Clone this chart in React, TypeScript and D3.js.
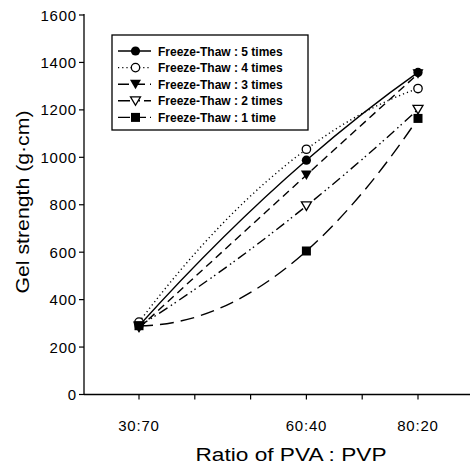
import React from "react";
import * as d3 from "d3";

const ratioLabels = ["30:70", "60:40", "80:20"];
const pvaShare = [30, 60, 80];
const xTicks = [30, 40, 50, 60, 70, 80];
const yTicks = [0, 200, 400, 600, 800, 1000, 1200, 1400, 1600];

const ft5 = [290, 988, 1358];
const ft4 = [305, 1034, 1290];
const ft3 = [280, 925, 1352];
const ft2 = [288, 795, 1202];
const ft1 = [290, 605, 1164];

const seriesNames = [
  "Freeze-Thaw : 5 times",
  "Freeze-Thaw : 4 times",
  "Freeze-Thaw : 3 times",
  "Freeze-Thaw : 2 times",
  "Freeze-Thaw : 1 time",
];
const seriesValues = [ft5, ft4, ft3, ft2, ft1];
const seriesMarkers = ["circleFilled", "circleOpen", "triFilled", "triOpen", "square"];
const seriesDash = ["none", "1.2 3", "8 5", "10 4 1.5 3 1.5 4", "14 7"];
const legendDash = ["none", "1.2 3", "11 5", "12 4 1.5 3 1.5 4", "12 4"];

// parabola through three points (custom d3 curve)
class Parabola {
  _context: any;
  _pts: number[][] = [];
  constructor(context: any) {
    this._context = context;
  }
  areaStart() {}
  areaEnd() {}
  lineStart() {
    this._pts = [];
  }
  point(x: number, y: number) {
    this._pts.push([+x, +y]);
  }
  lineEnd() {
    const p = this._pts;
    const c = this._context;
    if (!p.length) return;
    c.moveTo(p[0][0], p[0][1]);
    if (p.length !== 3) {
      for (let i = 1; i < p.length; i++) c.lineTo(p[i][0], p[i][1]);
      return;
    }
    const [[x0, y0], [x1, y1], [x2, y2]] = p;
    const s0 = (y1 - y0) / (x1 - x0);
    const s1 = (y2 - y1) / (x2 - x1);
    const k = (s1 - s0) / (x2 - x0);
    const d0 = s0 - k * (x1 - x0);
    const d1 = s0 + k * (x1 - x0);
    c.quadraticCurveTo((x0 + x1) / 2, y0 + (d0 * (x1 - x0)) / 2, x1, y1);
    c.quadraticCurveTo((x1 + x2) / 2, y1 + (d1 * (x2 - x1)) / 2, x2, y2);
  }
}
const curveParabola = (context: any) => new Parabola(context);

const FONT = "'Liberation Sans', Arial, Helvetica, sans-serif";

function Marker({ type, x, y }: { type: string; x: number; y: number }) {
  const sw = 1.3;
  if (type === "circleFilled") return <circle cx={x} cy={y} r={4.6} fill="#000" />;
  if (type === "circleOpen")
    return <circle cx={x} cy={y} r={4.2} fill="#fff" stroke="#000" strokeWidth={sw} />;
  if (type === "triFilled") {
    const p = d3.path();
    p.moveTo(x - 5.5, y - 4.5);
    p.lineTo(x + 5.5, y - 4.5);
    p.lineTo(x, y + 5);
    p.closePath();
    return <path d={p.toString()} fill="#000" />;
  }
  if (type === "triOpen") {
    const p = d3.path();
    p.moveTo(x - 5, y - 4);
    p.lineTo(x + 5, y - 4);
    p.lineTo(x, y + 4.5);
    p.closePath();
    return <path d={p.toString()} fill="#fff" stroke="#000" strokeWidth={sw} />;
  }
  return <rect x={x - 4.5} y={y - 4.5} width={9} height={9} fill="#000" />;
}

export default function App() {
  const width = 471;
  const height = 464;
  const axisX = 84;
  const axisY = 394.5;

  const x = d3.scaleLinear().domain([30, 80]).range([139, 418]);
  const y = d3.scaleLinear().domain([0, 1600]).range([axisY, 15]);

  const line = d3
    .line<number>()
    .x((_, i) => x(pvaShare[i]))
    .y((d) => y(d))
    .curve(curveParabola as any);

  const legendX = 112;
  const legendY = 35;
  const legendW = 196;
  const legendH = 95;
  const rowY = (i: number) => legendY + 16 + i * 16.6;

  return (
    <svg
      width={width}
      height={height}
      style={{ position: "absolute", left: 0, top: 0, background: "#fff" }}
      fontFamily={FONT}
    >
      <rect width={width} height={height} fill="#fff" />
      {/* axes */}
      <line x1={axisX} x2={axisX} y1={14} y2={axisY} stroke="#000" strokeWidth={1.3} />
      <line x1={axisX} x2={470} y1={axisY} y2={axisY} stroke="#000" strokeWidth={1.3} />
      {yTicks.map((t) => (
        <g key={"y" + t}>
          <line x1={axisX - 5} x2={axisX} y1={y(t)} y2={y(t)} stroke="#000" strokeWidth={1.2} />
          <text
            x={77}
            y={y(t) + 5.5}
            textAnchor="end"
            fontSize={15}
            letterSpacing={0.8}
            fill="#000"
          >
            {t}
          </text>
        </g>
      ))}
      {xTicks.map((t) => (
        <line key={"x" + t} x1={x(t)} x2={x(t)} y1={axisY} y2={axisY + 5} stroke="#000" strokeWidth={1.2} />
      ))}
      {ratioLabels.map((lab, i) => (
        <text
          key={lab}
          x={x(pvaShare[i])}
          y={431}
          textAnchor="middle"
          fontSize={15}
          letterSpacing={0.8}
          fill="#000"
        >
          {lab}
        </text>
      ))}
      <text
        x={291}
        y={461}
        textAnchor="middle"
        fontSize={17.5}
        textLength={191}
        lengthAdjust="spacingAndGlyphs"
        fill="#000"
      >
        Ratio of PVA : PVP
      </text>
      <text
        transform={`translate(29,202) rotate(-90)`}
        textAnchor="middle"
        fontSize={17.5}
        textLength={183}
        lengthAdjust="spacingAndGlyphs"
        fill="#000"
      >
        Gel strength (g·cm)
      </text>

      {/* series */}
      {seriesValues.map((vals, s) => (
        <path
          key={"l" + s}
          d={line(vals) || ""}
          fill="none"
          stroke="#000"
          strokeWidth={1.4}
          strokeDasharray={seriesDash[s]}
        />
      ))}
      {seriesValues.map((vals, s) =>
        vals.map((v, i) => (
          <Marker key={`m${s}-${i}`} type={seriesMarkers[s]} x={x(pvaShare[i])} y={y(v)} />
        ))
      )}

      {/* legend */}
      <rect
        x={legendX}
        y={legendY}
        width={legendW}
        height={legendH}
        fill="#fff"
        stroke="#000"
        strokeWidth={1.3}
      />
      {seriesNames.map((name, i) => (
        <g key={name}>
          <line
            x1={118}
            x2={151}
            y1={rowY(i)}
            y2={rowY(i)}
            stroke="#000"
            strokeWidth={1.4}
            strokeDasharray={legendDash[i]}
          />
          <Marker type={seriesMarkers[i]} x={135.5} y={rowY(i)} />
          <text x={158} y={rowY(i) + 4.5} fontSize={12} fontWeight={700} fill="#000">
            {name}
          </text>
        </g>
      ))}
    </svg>
  );
}
